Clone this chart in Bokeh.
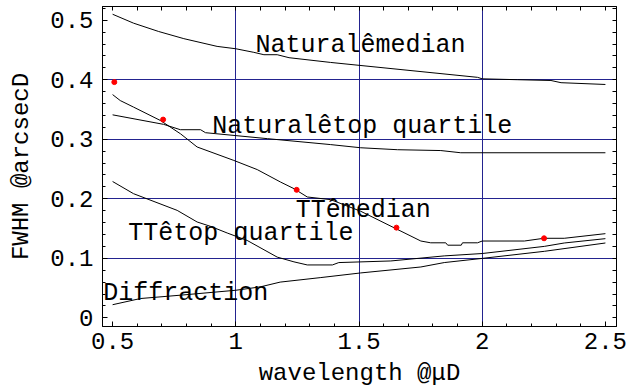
from bokeh.plotting import figure
from bokeh.models import (FixedTicker, LinearAxis, ColumnDataSource, LabelSet, Range1d)
from bokeh.core.properties import value
from bokeh.embed import file_html
from bokeh.resources import INLINE

# ---- data ----
nat_med_x = [0.5, 0.585, 0.687, 0.789, 0.924, 1.0, 1.073, 1.114, 1.168, 1.216, 1.385, 1.981, 2.0, 2.144, 2.279, 2.32, 2.5]
nat_med_y = [0.510, 0.495, 0.481, 0.469, 0.456, 0.452, 0.446, 0.442, 0.442, 0.437, 0.429, 0.404, 0.4015, 0.400, 0.3987, 0.395, 0.392]

nat_top_x = [0.5, 0.707, 0.775, 0.857, 0.877, 1.128, 1.385, 1.507, 1.656, 1.832, 1.913, 2.5]
nat_top_y = [0.341, 0.325, 0.316, 0.316, 0.311, 0.301, 0.291, 0.2857, 0.2824, 0.281, 0.2773, 0.2773]

tt_med_x = [0.5, 0.531, 0.585, 0.694, 0.776, 0.843, 0.992, 1.087, 1.182, 1.236, 1.29, 1.385, 1.507,
            1.751, 1.791, 1.852, 1.86, 1.915, 1.92, 1.981, 2.0, 2.171, 2.25, 2.333, 2.5]
tt_med_y = [0.375, 0.365, 0.354, 0.3315, 0.309, 0.287, 0.2644, 0.249, 0.228, 0.217, 0.203, 0.1985, 0.179,
            0.129, 0.126, 0.126, 0.122, 0.122, 0.126, 0.126, 0.129, 0.129, 0.1336, 0.1336, 0.1414]

tt_top_x = [0.5, 0.585, 0.762, 0.843, 0.897, 0.965, 1.046, 1.168, 1.236, 1.29, 1.392, 1.418, 1.629,
            1.846, 2.0, 2.252, 2.333, 2.5]
tt_top_y = [0.229, 0.2085, 0.1805, 0.161, 0.1537, 0.1425, 0.130, 0.102, 0.094, 0.0888, 0.0888, 0.0928, 0.0955,
            0.104, 0.108, 0.120, 0.1257, 0.133]

diff_x = [0.5, 0.613, 0.775, 1.0, 1.10, 1.18, 1.345, 1.507, 1.751, 1.846, 2.0, 2.252, 2.5]
diff_y = [0.022, 0.0324, 0.038, 0.0463, 0.052, 0.060, 0.0676, 0.0754, 0.0854, 0.0928, 0.0998, 0.1117, 0.1257]

meas_x = [0.507, 0.705, 1.247, 1.652, 2.251]
meas_y = [0.396, 0.333, 0.215, 0.1515, 0.1336]

label_text = ["Natural\u00eamedian", "Natural\u00eatop quartile", "TT\u00eamedian", "TT\u00eatop quartile", "Diffraction"]
label_x = [1.080, 0.904, 1.243, 0.564, 0.462]
label_y = [0.446, 0.310, 0.169, 0.130, 0.0295]

x_ticks = [0.5, 1.0, 1.5, 2.0, 2.5]
x_tick_labels = ["0.5", "1", "1.5", "2", "2.5"]
x_minor = [round(0.5 + 0.1 * i, 2) for i in range(21)]
y_ticks = [0.0, 0.1, 0.2, 0.3, 0.4, 0.5]
y_tick_labels = ["0", "0.1", "0.2", "0.3", "0.4", "0.5"]
y_minor = [round(0.02 * i, 2) for i in range(27)]
x_grid = [1.0, 1.5, 2.0]
y_grid = [0.1, 0.2, 0.3, 0.4]

FONT = "Liberation Mono"
GRID = "#23238f"

p = figure(width=630, height=392, output_backend="svg", toolbar_location=None,
           x_range=Range1d(0.459, 2.545), y_range=Range1d(-0.0146, 0.523),
           min_border_left=102, min_border_right=14, min_border_top=6, min_border_bottom=66,
           x_axis_label="wavelength @\u03bcD", y_axis_label="FWHM @arcsecD")
p.background_fill_color = "white"
p.border_fill_color = "white"
p.outline_line_color = "black"
p.outline_line_width = 1

p.xgrid.ticker = FixedTicker(ticks=x_grid)
p.ygrid.ticker = FixedTicker(ticks=y_grid)
for g in (p.xgrid, p.ygrid):
    g.grid_line_color = GRID
    g.grid_line_width = 1
    g.grid_line_alpha = 1.0


def style_axis(ax, ticks, minor, labels):
    ax.ticker = FixedTicker(ticks=ticks, minor_ticks=minor)
    ax.major_tick_in = 5
    ax.major_tick_out = 0
    ax.minor_tick_in = 3
    ax.minor_tick_out = 0
    ax.major_tick_line_color = "black"
    ax.minor_tick_line_color = "black"
    ax.axis_line_color = "black"
    ax.major_label_overrides = {t: l for t, l in zip(ticks, labels)}
    ax.major_label_text_font = FONT
    ax.major_label_text_font_size = "24px"
    ax.major_label_text_color = "black"
    ax.axis_label_text_font = FONT
    ax.axis_label_text_font_size = "24px"
    ax.axis_label_text_font_style = "normal"
    ax.axis_label_text_color = "black"


def tick_only_axis(ax, minor):
    # ticks on the opposite frame sides, without any labels
    ax.ticker = FixedTicker(ticks=[], minor_ticks=minor)
    ax.minor_tick_in = 4
    ax.minor_tick_out = 0
    ax.major_tick_in = 0
    ax.major_tick_out = 0
    ax.minor_tick_line_color = "black"
    ax.axis_line_color = "black"


xa = p.xaxis[0]
ya = p.yaxis[0]
style_axis(xa, x_ticks, x_minor, x_tick_labels)
style_axis(ya, y_ticks, y_minor, y_tick_labels)
xa.major_label_standoff = 6
xa.axis_label_standoff = 8
ya.major_label_standoff = 9
ya.axis_label_standoff = 12

top = LinearAxis()
right = LinearAxis()
tick_only_axis(top, x_minor)
tick_only_axis(right, y_minor)
p.add_layout(top, "above")
p.add_layout(right, "right")

for xs, ys in [(nat_med_x, nat_med_y), (nat_top_x, nat_top_y), (tt_med_x, tt_med_y),
               (tt_top_x, tt_top_y), (diff_x, diff_y)]:
    p.line(xs, ys, line_color="black", line_width=1)

p.scatter(meas_x, meas_y, size=5, fill_color="red", line_color="red")

src = ColumnDataSource(data=dict(x=label_x, y=label_y, text=label_text))
labels = LabelSet(x="x", y="y", text="text", source=src,
                  text_font=value(FONT), text_font_size=value("25px"),
                  text_color="black", text_align="left", text_baseline="alphabetic")
p.add_layout(labels)

open("out.html", "w").write(file_html(p, INLINE))
